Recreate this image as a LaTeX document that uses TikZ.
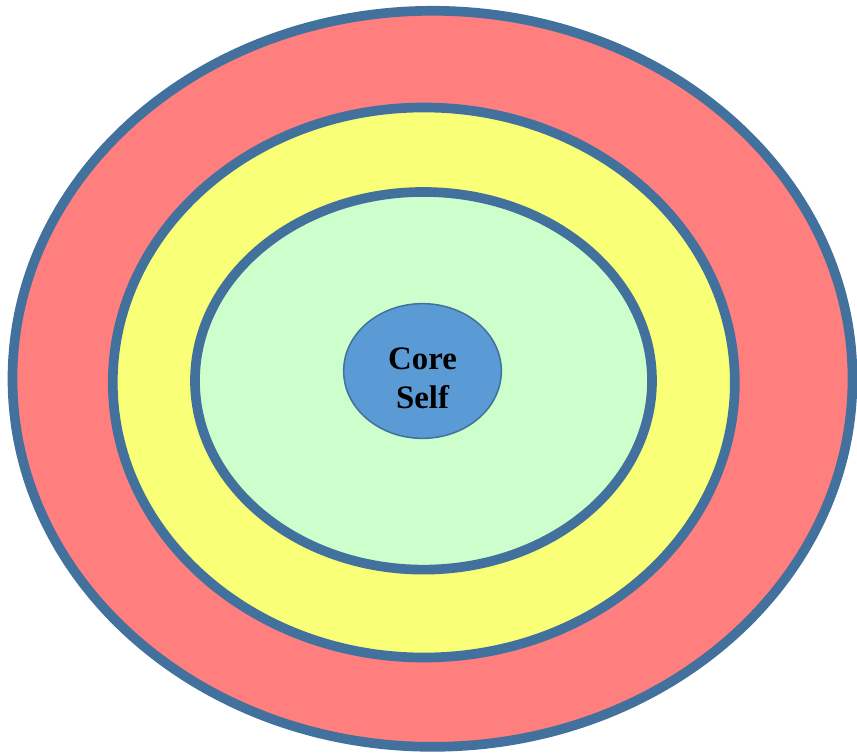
\documentclass[tikz,border=0pt]{standalone}
\usepackage{fontspec}
\setmainfont{Liberation Serif}
\usepackage{tikz}
\usetikzlibrary{shapes.geometric}
\definecolor{ringline}{HTML}{41719C}
\definecolor{ringred}{HTML}{FF7F7F}
\definecolor{ringyellow}{HTML}{F9FF76}
\definecolor{ringgreen}{HTML}{CCFFCC}
\definecolor{coreblue}{HTML}{5B9BD5}

\begin{document}
\begin{tikzpicture}[
  x=0.03cm, y=-0.03cm,
  ring/.style={ellipse, draw=ringline, line width=0.29cm, inner sep=0pt},
  core/.style={ellipse, draw=ringline, line width=1.3pt, fill=coreblue, inner sep=0pt, align=center, font=\bfseries\fontsize{28}{32.5}\selectfont}
]
\useasboundingbox (0,0) rectangle (857,755);
\node[ring, fill=ringred, minimum width=25.2cm, minimum height=22.08cm] (outer) at (432.5,378.8) {};
\node[ring, fill=ringyellow, minimum width=18.66cm, minimum height=16.5cm] (middle) at (423.8,382.5) {};
\node[ring, fill=ringgreen, minimum width=13.71cm, minimum height=11.33cm] (inner) at (423.5,380.8) {};
% strut pushes the two lines a little below the centre
\node[core, minimum width=4.73cm, minimum height=4.04cm] (self) at (422.5,371) {\rule{0pt}{31pt}Core\\Self};
\end{tikzpicture}
\end{document}
